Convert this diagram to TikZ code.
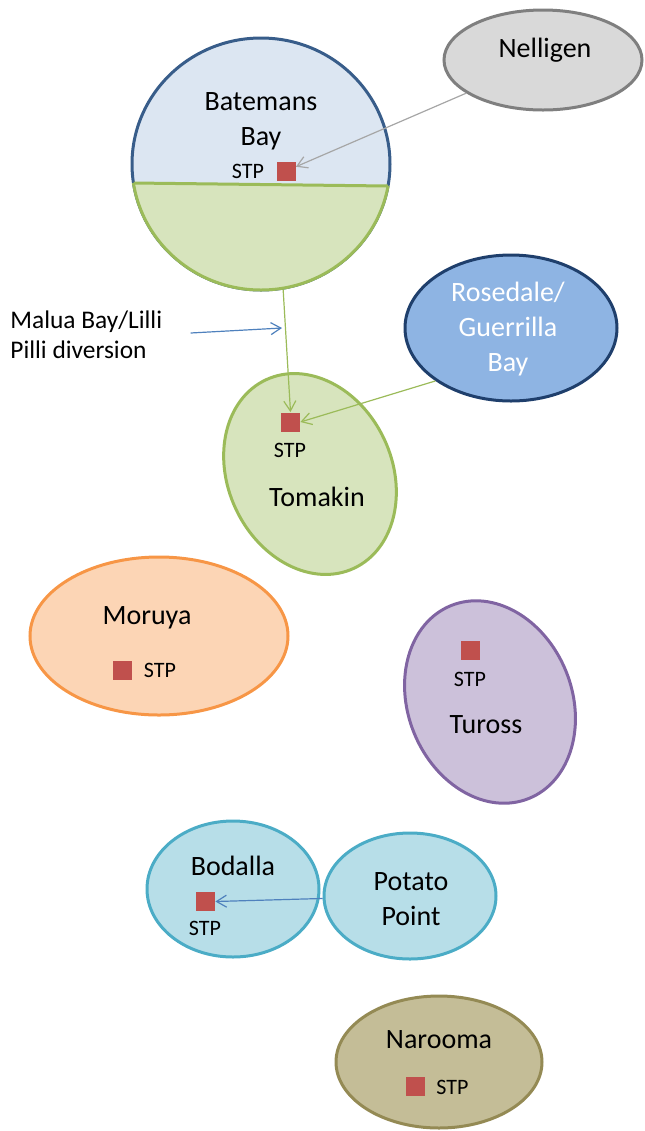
\documentclass[tikz,border=0pt]{standalone}
\usepackage{fontspec}
\setmainfont{Carlito}
\usepackage{xcolor}
\usepackage{tikz}
\usetikzlibrary{shapes.geometric,arrows.meta}

\definecolor{bbline}{HTML}{385D8A}
\definecolor{bbfill}{HTML}{DCE6F2}
\definecolor{grline}{HTML}{9BBB59}
\definecolor{grfill}{HTML}{D7E4BD}
\definecolor{nelline}{HTML}{7F7F7F}
\definecolor{nelfill}{HTML}{D9D9D9}
\definecolor{rosline}{HTML}{1F3F6C}
\definecolor{rosfill}{HTML}{8EB4E3}
\definecolor{morline}{HTML}{F79646}
\definecolor{morfill}{HTML}{FCD5B5}
\definecolor{turline}{HTML}{8064A2}
\definecolor{turfill}{HTML}{CCC1DA}
\definecolor{bodline}{HTML}{4BACC6}
\definecolor{bodfill}{HTML}{B7DEE8}
\definecolor{narline}{HTML}{948A54}
\definecolor{narfill}{HTML}{C4BD97}
\definecolor{stpred}{HTML}{C0504D}
\definecolor{arrblue}{HTML}{4F81BD}
\definecolor{arrgray}{HTML}{A6A6A6}

\begin{document}
\begin{tikzpicture}[x=0.5pt,y=-0.5pt,
    town/.style={ellipse,line width=1.5pt,inner sep=0pt},
    stpbox/.style={fill=stpred,minimum size=9.5pt,inner sep=0pt},
    place/.style={font=\fontsize{14}{17.5}\selectfont,align=center,inner sep=0pt},
    small/.style={font=\fontsize{11}{15}\selectfont,inner sep=0pt},
    note/.style={font=\fontsize{12.7}{15}\selectfont,align=left,inner sep=0pt},
    flow/.style={-{Straight Barb[length=5pt,width=6pt]},line width=0.6pt}]
  \useasboundingbox (0,0) rectangle (644,1131);

  % towns
  \node[town,draw=nelline,fill=nelfill,minimum width=99pt,minimum height=50pt] (nel) at (543,60) {};
  \node[town,draw=bbline,fill=bbfill,minimum width=129pt,minimum height=126pt] (bb) at (261,164) {};
  \begin{scope}
    \clip (120,183) -- (400,186) -- (400,300) -- (120,300) -- cycle;
    \draw[line width=1.5pt,draw=grline,fill=grfill] (261,164) ellipse [x radius=129,y radius=126];
  \end{scope}
  \draw[line width=1.5pt,grline] (133.5,183) -- (388,186);
  \node[town,draw=rosline,fill=rosfill,minimum width=106pt,minimum height=73pt] (ros) at (511,328) {};
  \node[town,draw=grline,fill=grfill,minimum width=82pt,minimum height=104pt,rotate=25] (tom) at (310,474) {};
  \node[town,draw=morline,fill=morfill,minimum width=129pt,minimum height=79pt] (mor) at (159,636) {};
  \node[town,draw=turline,fill=turfill,minimum width=82pt,minimum height=104pt,rotate=22] (tur) at (490,702) {};
  \node[town,draw=bodline,fill=bodfill,minimum width=86pt,minimum height=68pt] (bod) at (233,889) {};
  \node[town,draw=bodline,fill=bodfill,minimum width=86pt,minimum height=63pt] (pp) at (410,896) {};
  \node[town,draw=narline,fill=narfill,minimum width=103pt,minimum height=66pt] (nar) at (439,1062) {};

  % names
  \node[place] (nelname) at (545,50) {Nelligen};
  \node[place] (bbname) at (261,121) {Batemans\\Bay};
  \node[place,text=white] (rosname) at (508,329) {Rosedale/\\Guerrilla\\Bay};
  \node[place] (tomname) at (317,497) {Tomakin};
  \node[place] (morname) at (147,618) {Moruya};
  \node[place] (turname) at (486,725) {Tuross};
  \node[place] (bodname) at (233,866) {Bodalla};
  \node[place] (ppname) at (411,899) {Potato\\Point};
  \node[place] (narname) at (439,1040) {Narooma};

  % treatment plants
  \node[stpbox] (bbstp) at (286,171) {};
  \node[small] at (248,171) {STP};
  \node[stpbox] (tomstp) at (290.5,422) {};
  \node[small] at (290,450) {STP};
  \node[stpbox] (morstp) at (122.5,670.5) {};
  \node[small] at (160,670) {STP};
  \node[stpbox] (turstp) at (470.5,650) {};
  \node[small] at (470,679) {STP};
  \node[stpbox] (bodstp) at (205.5,901.5) {};
  \node[small] at (205,928) {STP};
  \node[stpbox] (narstp) at (415.5,1086.5) {};
  \node[small] at (452.5,1087) {STP};

  % diversion note
  \node[note,anchor=west] (malua) at (10,335) {Malua Bay/Lilli\\Pilli diversion};
  \coordinate (div) at (282,328);

  % flows
  \draw[flow,arrgray] (nel) -- (bbstp);
  \draw[flow,grline] (bb.-80) -- (tomstp.north);
  \draw[flow,grline] (ros.215) -- (tomstp.east);
  \draw[flow,arrblue] ([xshift=14pt,yshift=1pt]malua.east) -- (div);
  \draw[flow,arrblue] (pp) -- (bodstp.east);
\end{tikzpicture}
\end{document}
